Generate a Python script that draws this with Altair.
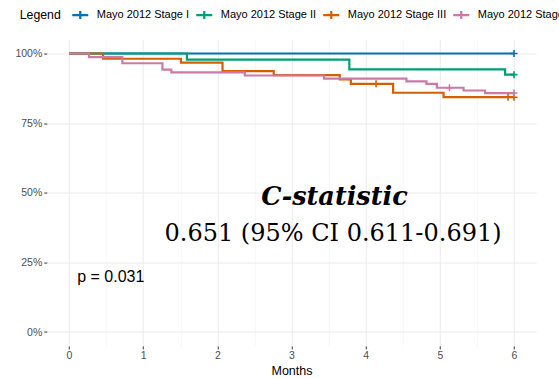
import altair as alt
import pandas as pd

# Kaplan-Meier style survival curves by Mayo 2012 stage
stages = ["Mayo 2012 Stage I", "Mayo 2012 Stage II", "Mayo 2012 Stage III", "Mayo 2012 Stage IV"]
colors = ["#0072B2", "#009E73", "#D55E00", "#CC79A7"]

stage1_months = [0, 6]
stage1_surv = [1.0, 1.0]

stage2_months = [0, 1.59, 3.78, 5.88, 6]
stage2_surv = [1.0, 0.978, 0.943, 0.924, 0.924]

stage3_months = [0, 0.46, 1.51, 2.07, 2.76, 3.65, 3.80, 4.37, 5.05, 6]
stage3_surv = [1.0, 0.981, 0.967, 0.937, 0.922, 0.907, 0.891, 0.859, 0.843, 0.843]

stage4_months = [0, 0.27, 0.72, 1.26, 1.38, 2.37, 3.44, 4.55, 4.82, 4.96, 5.32, 5.61, 6]
stage4_surv = [1.0, 0.987, 0.965, 0.942, 0.932, 0.921, 0.910, 0.900, 0.891, 0.877, 0.867, 0.858, 0.858]

# censored observations
censor_stage = [0, 1, 2, 2, 2, 3, 3]
censor_months = [6, 6, 4.14, 5.92, 6, 5.13, 6]
censor_surv = [1.0, 0.924, 0.891, 0.843, 0.843, 0.877, 0.858]

c_title = "C-statistic"
c_value = "0.651 (95% CI 0.611-0.691)"
p_text = "p = 0.031"

rows = []
for name, ms, ss in zip(stages,
                        [stage1_months, stage2_months, stage3_months, stage4_months],
                        [stage1_surv, stage2_surv, stage3_surv, stage4_surv]):
    for m, s in zip(ms, ss):
        rows.append({"stage": name, "month": m, "surv": s})
curves = pd.DataFrame(rows)

censors = pd.DataFrame({
    "stage": [stages[i] for i in censor_stage],
    "month": censor_months,
    "surv": censor_surv,
})

x_scale = alt.Scale(domain=[-0.3, 6.3], nice=False, zero=False)
y_scale = alt.Scale(domain=[-0.05, 1.05], nice=False, zero=False)
color_scale = alt.Scale(domain=stages, range=colors)

x_minor = "datum.value % 1 !== 0"
y_minor = "round(datum.value * 1000) % 250 !== 0"

x_axis = alt.Axis(
    values=[i * 0.5 for i in range(13)],
    labelExpr="datum.value % 1 === 0 ? format(datum.value, 'd') : ''",
    labelOverlap=False,
    title="Months",
    tickSize=3,
    labelPadding=2,
    titlePadding=3,
    gridWidth={"condition": {"test": x_minor, "value": 0.5}, "value": 1},
    tickOpacity={"condition": {"test": x_minor, "value": 0}, "value": 1},
)
y_axis = alt.Axis(
    values=[i * 0.125 for i in range(9)],
    labelExpr="round(datum.value * 1000) % 250 === 0 ? format(datum.value, '.0%') : ''",
    labelOverlap=False,
    title=None,
    tickSize=3,
    labelPadding=2,
    gridWidth={"condition": {"test": y_minor, "value": 0.5}, "value": 1},
    tickOpacity={"condition": {"test": y_minor, "value": 0}, "value": 1},
)

# horizontal legend row; the last entry runs past the right edge of the canvas
legend = alt.Legend(
    title="Legend",
    orient="none",
    legendX=-27,
    legendY=-34,
    direction="horizontal",
    columns=4,
    titleOrient="left",
    titleFont="Liberation Sans",
    titleFontSize=12.3,
    titleFontWeight="normal",
    titleColor="black",
    titlePadding=9,
    labelFont="Liberation Sans",
    labelFontSize=11,
    labelColor="black",
    labelOffset=7,
    columnPadding=2,
    symbolType="M-1,0L1,0M0,-0.5L0,0.5",
    symbolSize=256,
    symbolStrokeWidth=2.2,
)

lines = alt.Chart(curves).mark_line(interpolate="step-after", strokeWidth=2.2).encode(
    x=alt.X("month:Q", scale=x_scale, axis=x_axis),
    y=alt.Y("surv:Q", scale=y_scale, axis=y_axis),
    color=alt.Color("stage:N", scale=color_scale, legend=legend),
)

ticks = alt.Chart(censors).mark_point(
    shape="M-1,0L1,0M0,-1L0,1", size=49, filled=False, strokeWidth=1.6, opacity=1
).encode(
    x=alt.X("month:Q", scale=x_scale),
    y=alt.Y("surv:Q", scale=y_scale),
    color=alt.Color("stage:N", scale=color_scale, legend=None),
)

title_text = alt.Chart(pd.DataFrame({"t": [c_title], "x": [3.58], "y": [0.455]})).mark_text(
    font="DejaVu Serif", fontSize=25.5, fontWeight="bold", fontStyle="italic",
    align="center", baseline="alphabetic", color="black"
).encode(x=alt.X("x:Q", scale=x_scale), y=alt.Y("y:Q", scale=y_scale), text="t:N")

value_text = alt.Chart(pd.DataFrame({"t": [c_value], "x": [3.56], "y": [0.326]})).mark_text(
    font="DejaVu Serif", fontSize=24, align="center", baseline="alphabetic", color="black"
).encode(x=alt.X("x:Q", scale=x_scale), y=alt.Y("y:Q", scale=y_scale), text="t:N")

p_label = alt.Chart(pd.DataFrame({"t": [p_text], "x": [0.11], "y": [0.181]})).mark_text(
    font="Liberation Sans", fontSize=16, align="left", baseline="alphabetic", color="black"
).encode(x=alt.X("x:Q", scale=x_scale), y=alt.Y("y:Q", scale=y_scale), text="t:N")

chart = alt.layer(lines, ticks, title_text, value_text, p_label).properties(
    width=489.5,
    height=306.4,
    padding={"left": 46.75, "top": 39.55, "right": 22.75, "bottom": 32.05},
    autosize=alt.AutoSizeParams(type="none"),
    background="white",
).configure_view(stroke=None).configure_axis(
    domain=False,
    gridColor="#ebebeb",
    tickColor="#333333",
    labelColor="#4d4d4d",
    labelFont="Liberation Sans",
    labelFontSize=10.5,
    titleFont="Liberation Sans",
    titleFontSize=12.5,
    titleFontWeight="normal",
    titleColor="black",
)

chart.save("out.html", embed_options={"renderer": "svg", "actions": False})
